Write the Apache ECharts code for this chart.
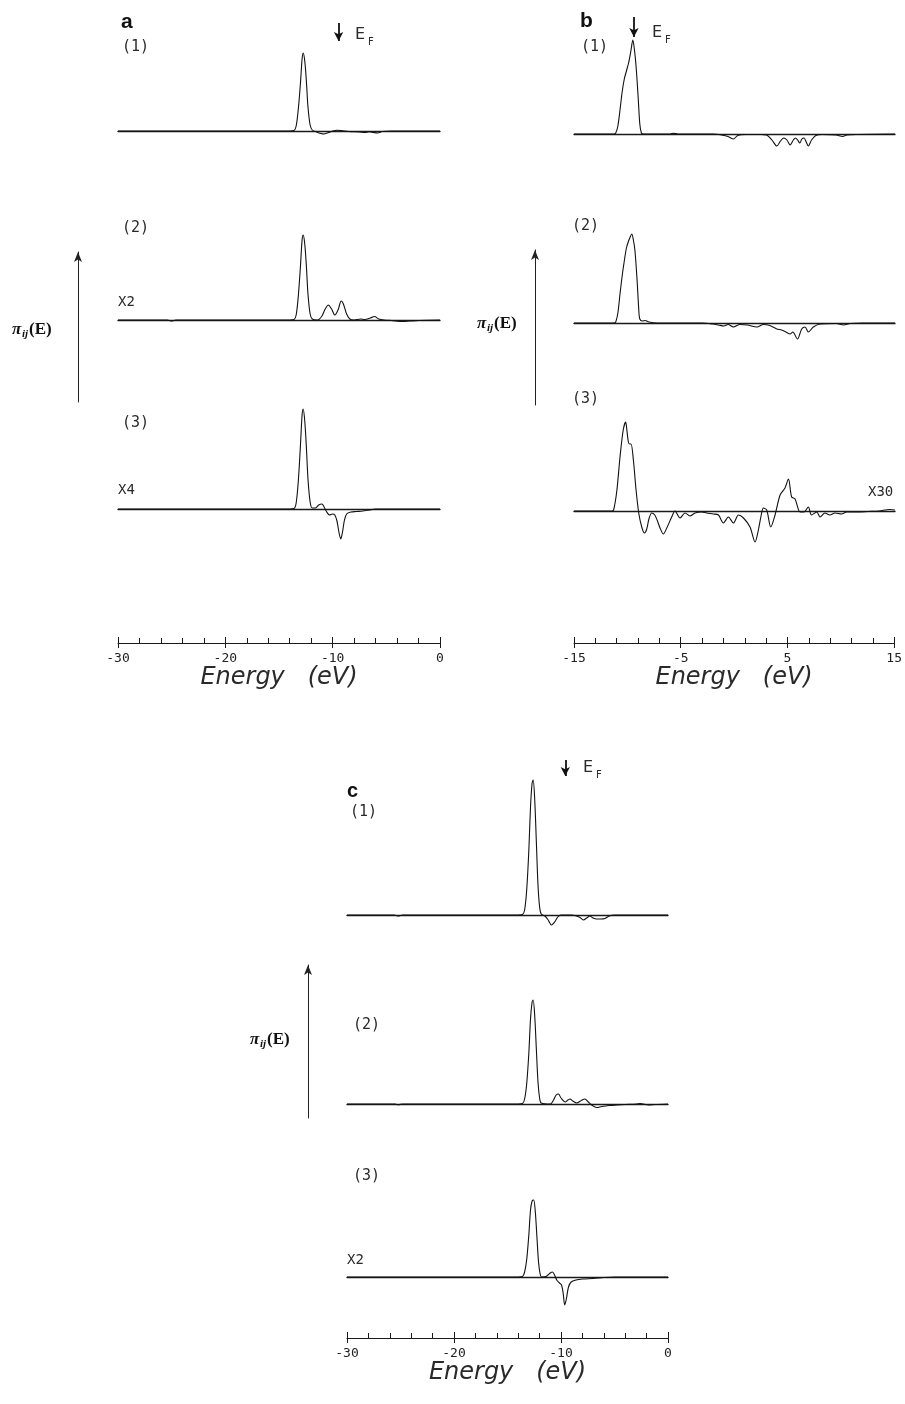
<!DOCTYPE html>
<html>
<head>
<meta charset="utf-8">
<script src="https://cdn.jsdelivr.net/npm/echarts@6/dist/echarts.min.js"></script>
<style>
  html, body { margin: 0; background: #fff; }
  #chart { width: 905px; height: 1404px; }
</style>
</head>
<body>
<div id="chart"></div>
<script>
// curves: [energy (eV), pi_ij(E) in arbitrary units]
const a1 = [[-30, 0], [-14, 0], [-13.6, 0.5], [-13.4, 5], [-13.2, 22], [-13.0, 48], [-12.85, 72], [-12.75, 78], [-12.6, 70], [-12.45, 50], [-12.3, 24], [-12.1, 6], [-11.9, 1], [-11.5, -1], [-11.1, -2.5], [-10.8, -3], [-10.5, -2], [-10.1, -0.5], [-9.6, 0.8], [-9.2, 0.5], [-8.5, -0.5], [-7.5, -1], [-7.0, -1.5], [-6.6, -0.8], [-6.2, -1.5], [-5.8, -2], [-5.4, -0.5], [-4.5, 0], [0, 0]]
const a2 = [[-30, 0], [-25.4, 0], [-25, -1], [-24.6, 0], [-14, 0], [-13.6, 0.5], [-13.4, 5], [-13.2, 24], [-13.0, 54], [-12.85, 80], [-12.75, 85], [-12.6, 76], [-12.45, 54], [-12.3, 26], [-12.1, 6], [-11.9, 1], [-11.4, 0], [-11.0, 4], [-10.7, 11], [-10.4, 15], [-10.1, 11], [-9.8, 5], [-9.5, 10], [-9.2, 19], [-9.0, 16], [-8.7, 6], [-8.4, 1], [-8.0, 0], [-7.4, 1], [-7.0, 0.5], [-6.5, 2], [-6.1, 3.5], [-5.7, 1], [-5.2, 0], [-4.5, -0.5], [-3.5, -1.5], [-2.8, -1], [-2, -0.5], [0, 0]]
const a3 = [[-30, 0], [-14, 0], [-13.6, 0.5], [-13.4, 6], [-13.2, 28], [-13.0, 64], [-12.85, 94], [-12.75, 100], [-12.6, 88], [-12.45, 62], [-12.3, 30], [-12.1, 7], [-11.9, 1], [-11.6, 1], [-11.3, 4], [-11.0, 5], [-10.8, 2], [-10.55, -3], [-10.3, -6], [-10.0, -5], [-9.8, -6], [-9.6, -12], [-9.4, -24], [-9.25, -30], [-9.1, -24], [-8.9, -11], [-8.7, -5], [-8.3, -3], [-7.8, -2.5], [-7.2, -2], [-6.6, -1], [-6.0, 0], [0, 0]]

const b1 = [[-15, 0], [-11.3, 0], [-11.1, 1], [-10.9, 8], [-10.7, 24], [-10.5, 42], [-10.3, 55], [-10.1, 63], [-9.9, 71], [-9.7, 82], [-9.5, 94], [-9.35, 84], [-9.2, 68], [-9.0, 36], [-8.85, 10], [-8.7, 1], [-8.5, 0], [-6, 0], [-5.7, 0.7], [-5.3, 0], [-2, 0], [-1.2, -1], [-0.6, -2.5], [-0.1, -5], [0.3, -1.5], [1, -0.5], [2.5, -0.5], [3.0, -1], [3.5, -6], [3.95, -12], [4.3, -7], [4.6, -4], [4.9, -6], [5.2, -11], [5.5, -6], [5.7, -4], [5.9, -6], [6.1, -9], [6.3, -5], [6.5, -4], [6.7, -8], [6.9, -12], [7.2, -6], [7.6, -1.5], [8.2, -0.5], [9.5, -1], [10.1, -2.5], [10.5, -1], [11.5, -0.5], [15, 0]]
const b2 = [[-15, 0], [-11.3, 0], [-11.1, 1], [-10.9, 10], [-10.7, 29], [-10.5, 47], [-10.3, 62], [-10.1, 75], [-9.9, 82], [-9.75, 86], [-9.6, 89], [-9.45, 83], [-9.3, 72], [-9.1, 42], [-8.95, 14], [-8.85, 4], [-8.6, 2], [-8.35, 2.5], [-8.0, 1], [-7.2, 0], [-3, 0], [-2, -1], [-1.5, -2], [-1.0, -3], [-0.6, -1.5], [-0.1, -4], [0.5, -1.5], [1.2, -2], [2.1, -4], [2.7, -1.5], [3.3, -2.5], [3.95, -6], [4.4, -7], [4.8, -9], [5.2, -11], [5.45, -9], [5.88, -16], [6.28, -6], [6.59, -4], [6.9, -9], [7.37, -4], [8.0, -1], [9.5, -0.5], [10.2, -2], [10.8, -0.5], [12, 0], [15, 0]]
const b3 = [[-15, 0], [-11.5, 0], [-11.3, 1], [-11.0, 20], [-10.7, 54], [-10.4, 81], [-10.17, 89], [-10.05, 80], [-9.92, 69], [-9.8, 67], [-9.67, 67], [-9.45, 51], [-9.2, 21], [-8.95, -2], [-8.67, -16], [-8.42, -22], [-8.2, -18], [-8.0, -8], [-7.74, -2], [-7.45, -4], [-7.2, -10], [-6.96, -17], [-6.65, -23], [-6.33, -17], [-5.87, -6], [-5.56, 0], [-5.09, -7], [-4.62, -2], [-4.16, -5], [-3.69, -2], [-3.06, -1], [-2.6, -2], [-1.98, -3], [-1.5, -4], [-1.04, -12], [-0.57, -6], [-0.1, -12], [0.37, -4], [0.84, -7], [1.45, -16], [1.92, -31], [2.23, -19], [2.5, -4], [2.7, 3], [3.01, 1], [3.39, -16], [3.79, -4], [4.26, 16], [4.72, 23], [5.04, 32], [5.34, 14], [5.66, 12], [6.13, -1], [6.5, -1], [6.9, 4], [7.2, -4], [7.68, -1], [8.0, -6], [8.45, -2], [8.92, -4], [9.4, -2], [10.0, -3], [10.5, -1], [11.5, -1], [12.5, -0.5], [13.5, 0], [14.5, 1.5], [15, 1]]

const c1 = [[-30, 0], [-25.6, 0], [-25.2, -1], [-24.8, 0], [-14, 0], [-13.6, 0.5], [-13.4, 5], [-13.2, 26], [-13.0, 66], [-12.85, 108], [-12.7, 132], [-12.6, 135], [-12.45, 114], [-12.3, 72], [-12.15, 30], [-12.0, 8], [-11.85, 1], [-11.5, -1], [-11.2, -5], [-10.9, -10], [-10.6, -7], [-10.3, -2], [-10.0, 0], [-9, 0], [-8.3, -2], [-7.9, -5], [-7.6, -3], [-7.3, -1], [-7.0, -3], [-6.7, -4], [-6.3, -4], [-5.9, -3.5], [-5.5, -1], [-5.0, 0], [0, 0]]
const c2 = [[-30, 0], [-25.5, 0], [-25.2, -0.8], [-24.8, 0], [-14, 0], [-13.6, 0.5], [-13.4, 5], [-13.2, 21], [-13.0, 52], [-12.85, 85], [-12.7, 102], [-12.6, 104], [-12.45, 87], [-12.3, 54], [-12.15, 22], [-12.0, 6], [-11.85, 1], [-11.0, 0], [-10.7, 4], [-10.45, 9], [-10.24, 10], [-10.0, 6], [-9.6, 2], [-9.35, 4], [-9.16, 5], [-8.9, 3], [-8.53, 1], [-8.1, 3.5], [-7.76, 5], [-7.45, 2], [-7.13, -1], [-6.66, -3.5], [-6.2, -2.5], [-5.5, -1.5], [-4.79, -1], [-4.0, -0.5], [-3, 0], [-2.6, 0.5], [-1.8, -1], [-1.2, -0.5], [0, 0]]
const c3 = [[-30, 0], [-14, 0], [-13.6, 0.5], [-13.4, 5], [-13.2, 18], [-13.0, 43], [-12.85, 67], [-12.7, 76], [-12.55, 77], [-12.4, 65], [-12.25, 40], [-12.1, 15], [-11.95, 3], [-11.8, 0], [-11.4, 0.5], [-11.0, 4], [-10.8, 5], [-10.6, 2], [-10.4, -3], [-10.15, -6], [-9.95, -8], [-9.8, -16], [-9.65, -28], [-9.5, -22], [-9.3, -10], [-9.05, -5], [-8.6, -3], [-8.0, -2], [-7.0, -1.5], [-6.0, -0.5], [-5.0, 0], [0, 0]]

// Fermi level per panel (eV)
const efA = -9.45
const efB = -9.4
const efC = -9.6

const chart = echarts.init(document.getElementById('chart'))

const ink = '#1a1a1a'
const mono = 'DejaVu Sans Mono'

// layout of the three panels, each with three stacked sub plots
const panels = [
  {
    left: 118, width: 322, min: -30, max: 0, axisY: 643, ef: efA,
    subs: [
      { data: a1, top: 15, bottom: 160, base: 131, efFrom: 108, efTo: 90 },
      { data: a2, top: 230, bottom: 350, base: 320 },
      { data: a3, top: 400, bottom: 560, base: 509 }
    ]
  },
  {
    left: 574, width: 321, min: -15, max: 15, axisY: 643, ef: efB,
    subs: [
      { data: b1, top: 15, bottom: 170, base: 134, efFrom: 117, efTo: 97 },
      { data: b2, top: 220, bottom: 360, base: 323 },
      { data: b3, top: 400, bottom: 560, base: 511 }
    ]
  },
  {
    left: 347, width: 321, min: -30, max: 0, axisY: 1338, ef: efC,
    subs: [
      { data: c1, top: 750, bottom: 950, base: 915, efFrom: 155, efTo: 139 },
      { data: c2, top: 990, bottom: 1130, base: 1104 },
      { data: c3, top: 1190, bottom: 1320, base: 1277 }
    ]
  }
]

// vertical pi_ij(E) arrows
const arrows = [
  { x: 78, top: 252, bottom: 402 },
  { x: 535, top: 250, bottom: 405 },
  { x: 308, top: 965, bottom: 1118 }
]

const grid = []
const xAxis = []
const yAxis = []
const series = []

panels.forEach(p => {
  p.subs.forEach((s, i) => {
    const g = grid.length
    grid.push({ left: p.left, width: p.width, top: s.top, height: s.bottom - s.top })
    const xi = xAxis.length
    xAxis.push({
      gridIndex: g, type: 'value', min: p.min, max: p.max,
      axisLine: { show: true, onZero: true, lineStyle: { color: ink, width: 1.4 } },
      axisTick: { show: false }, axisLabel: { show: false }, splitLine: { show: false }
    })
    const yi = yAxis.length
    yAxis.push({ gridIndex: g, type: 'value', min: -(s.bottom - s.base), max: s.base - s.top, show: false })
    const ser = {
      type: 'line', xAxisIndex: xi, yAxisIndex: yi, data: s.data,
      smooth: 0.3, showSymbol: false, silent: true, animation: false,
      lineStyle: { color: '#111', width: 1.1 }
    }
    if (i === 0) {
      ser.markLine = {
        silent: true, animation: false,
        symbol: ['none', 'arrow'], symbolSize: [7, 9],
        label: { show: false },
        lineStyle: { color: '#111', width: 1.8, type: 'solid' },
        data: [[{ coord: [p.ef, s.efFrom] }, { coord: [p.ef, s.efTo] }]]
      }
    }
    series.push(ser)
  })

  // energy axis under the panel
  const g = grid.length
  grid.push({ left: p.left, width: p.width, top: p.axisY - 10, height: 10 })
  xAxis.push({
    gridIndex: g, type: 'value', min: p.min, max: p.max, interval: 10, position: 'bottom',
    name: 'Energy   (eV)', nameLocation: 'middle', nameGap: 20,
    nameTextStyle: { fontFamily: 'DejaVu Sans', fontStyle: 'italic', fontSize: 24, color: '#2a2a2a' },
    axisLine: { show: true, onZero: false, lineStyle: { color: ink, width: 1 } },
    axisTick: { show: true, inside: true, length: 6, lineStyle: { color: ink, width: 1 } },
    minorTick: { show: true, splitNumber: 5, length: 5, lineStyle: { color: ink, width: 1 } },
    axisLabel: { margin: 9, fontFamily: mono, fontSize: 13, color: '#222' },
    splitLine: { show: false }
  })
  xAxis.push({
    gridIndex: g, type: 'value', min: p.min, max: p.max, interval: 10, position: 'bottom',
    axisLine: { show: false, onZero: false },
    axisTick: { show: true, length: 5, lineStyle: { color: ink, width: 1 } },
    axisLabel: { show: false }, splitLine: { show: false }
  })
  yAxis.push({ gridIndex: g, type: 'value', min: 0, max: 1, show: false })
})

arrows.forEach(a => {
  const g = grid.length
  grid.push({ left: a.x, width: 10, top: a.top, height: a.bottom - a.top })
  xAxis.push({ gridIndex: g, type: 'value', min: 0, max: 1, show: false })
  yAxis.push({
    gridIndex: g, type: 'value', min: 0, max: 1, position: 'left',
    axisLine: { show: true, onZero: false, symbol: ['none', 'arrow'], symbolSize: [6, 10], lineStyle: { color: '#222', width: 1 } },
    axisTick: { show: false }, axisLabel: { show: false }, splitLine: { show: false }
  })
})

// text labels
function txt (text, x, y, size, extra) {
  return {
    type: 'text', silent: true,
    style: Object.assign({
      text: text, x: x, y: y, fontSize: size, fontFamily: mono,
      fill: '#2a2a2a', verticalAlign: 'middle', align: 'left'
    }, extra || {})
  }
}
const bold = { fontFamily: 'Liberation Sans', fontWeight: 'bold', fill: '#111' }
const light = { fontFamily: 'DejaVu Sans', fill: '#2a2a2a' }
const piLabel = (x, y) => [
  txt('π', x, y, 17, { fontFamily: 'Liberation Serif', fontStyle: 'italic', fontWeight: 'bold', fill: '#111' }),
  txt('ij', x + 10, y + 4, 11, { fontFamily: 'Liberation Serif', fontStyle: 'italic', fontWeight: 'bold', fill: '#111' }),
  txt('(E)', x + 17, y, 17, { fontFamily: 'Liberation Serif', fontWeight: 'bold', fill: '#111' })
]
const efLabel = (x, y) => [
  txt('E', x, y, 16, light),
  txt('F', x + 13, y + 7, 10, light)
]

const graphic = [
  txt('a', 121, 22, 21, bold),
  txt('(1)', 122, 47, 15),
  txt('(2)', 122, 228, 15),
  txt('X2', 118, 302, 14),
  txt('(3)', 122, 423, 15),
  txt('X4', 118, 490, 14),
  txt('b', 580, 21, 21, bold),
  txt('(1)', 581, 47, 15),
  txt('(2)', 572, 226, 15),
  txt('(3)', 572, 399, 15),
  txt('X30', 868, 492, 14),
  txt('c', 347, 791, 20, bold),
  txt('(1)', 350, 812, 15),
  txt('(2)', 353, 1025, 15),
  txt('(3)', 353, 1176, 15),
  txt('X2', 347, 1260, 14)
].concat(
  piLabel(12, 330), piLabel(477, 324), piLabel(250, 1040),
  efLabel(355, 35), efLabel(652, 33), efLabel(583, 768)
)

chart.setOption({
  backgroundColor: '#fff',
  animation: false,
  grid: grid,
  xAxis: xAxis,
  yAxis: yAxis,
  series: series,
  graphic: graphic
})
</script>
</body>
</html>
